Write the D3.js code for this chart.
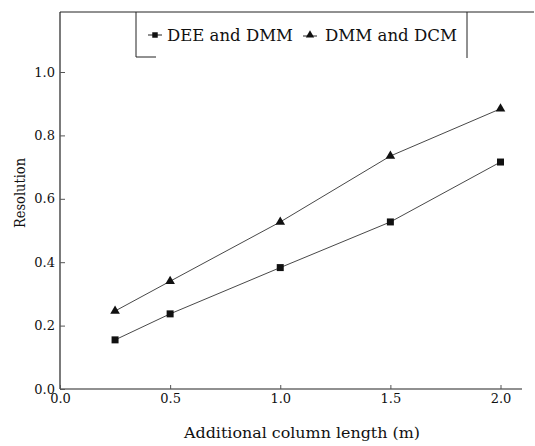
<!DOCTYPE html>
<html>
<head>
<meta charset="utf-8">
<script src="https://cdn.jsdelivr.net/npm/d3@7"></script>
<style>
  body { margin: 0; background: #fff; }
  svg { display: block; }
  text { font-family: "DejaVu Serif", "Liberation Serif", serif; fill: #111; }
</style>
</head>
<body>
<div id="chart"></div>
<script>
// ------------------------------------------------------------
// Data
// ------------------------------------------------------------
const lengths = [0.25, 0.5, 1.0, 1.5, 2.0];
const deeDmm = [0.155, 0.237, 0.383, 0.527, 0.716];
const dmmDcm = [0.246, 0.340, 0.527, 0.735, 0.884];
const seriesNames = ["DEE and DMM", "DMM and DCM"];
const xTicks = [0.0, 0.5, 1.0, 1.5, 2.0];
const yTicks = [0.0, 0.2, 0.4, 0.6, 0.8, 1.0];

const W = 535, H = 446;
const margin = { left: 60, top: 12, right: 13, bottom: 57 };
const FONT = '"DejaVu Serif", "Liberation Serif", serif';

const svg = d3.select("#chart")
    .append("svg")
    .attr("width", W)
    .attr("height", H);

// Scales
const x = d3.scaleLinear().domain([0, 2.0]).range([margin.left, 500.5]);
const y = d3.scaleLinear().domain([0, 1.0]).range([389, 72]);

// Frame: left axis, bottom axis, top line
svg.append("line")
    .attr("x1", margin.left).attr("x2", margin.left)
    .attr("y1", margin.top).attr("y2", y(0))
    .attr("stroke", "#222").attr("stroke-width", 1.2);
svg.append("line")
    .attr("x1", margin.left).attr("x2", 522)
    .attr("y1", y(0)).attr("y2", y(0))
    .attr("stroke", "#222").attr("stroke-width", 1.2);
svg.append("line")
    .attr("x1", margin.left).attr("x2", W - 1)
    .attr("y1", margin.top).attr("y2", margin.top)
    .attr("stroke", "#222").attr("stroke-width", 1);

// Y axis (inner ticks)
const yAxis = d3.axisLeft(y)
    .tickValues(yTicks)
    .tickFormat(d3.format(".1f"))
    .tickSizeInner(-5)
    .tickSizeOuter(0)
    .tickPadding(5);
const gy = svg.append("g")
    .attr("transform", `translate(${margin.left},0)`)
    .call(yAxis);
gy.select(".domain").remove();
gy.selectAll("line").attr("stroke", "#555");
gy.selectAll("text").attr("font-size", 13).attr("fill", "#111")
    .attr("font-family", FONT);

// X axis (inner ticks)
const xAxis = d3.axisBottom(x)
    .tickValues(xTicks)
    .tickFormat(d3.format(".1f"))
    .tickSizeInner(-4)
    .tickSizeOuter(0)
    .tickPadding(5);
const gx = svg.append("g")
    .attr("transform", `translate(0,${y(0)})`)
    .call(xAxis);
gx.select(".domain").remove();
gx.selectAll("line").attr("stroke", "#555");
gx.selectAll("text").attr("font-size", 13).attr("fill", "#111")
    .attr("font-family", FONT);

// Axis titles
svg.append("text")
    .attr("x", 184).attr("y", 438)
    .attr("font-size", 15)
    .attr("textLength", 236)
    .attr("lengthAdjust", "spacingAndGlyphs")
    .text("Additional column length (m)");
svg.append("text")
    .attr("transform", "translate(25,228) rotate(-90)")
    .attr("font-size", 14)
    .attr("textLength", 70)
    .attr("lengthAdjust", "spacingAndGlyphs")
    .text("Resolution");

// Lines and markers
const line = d3.line()
    .x((d, i) => x(lengths[i]))
    .y(d => y(d));

svg.append("path")
    .datum(deeDmm)
    .attr("d", line)
    .attr("fill", "none").attr("stroke", "#333").attr("stroke-width", 0.9);
svg.append("path")
    .datum(dmmDcm)
    .attr("d", line)
    .attr("fill", "none").attr("stroke", "#333").attr("stroke-width", 0.9);

const sq = d3.symbol().type(d3.symbolSquare).size(49);
const tri = d3.symbol().type(d3.symbolTriangle).size(40);

svg.selectAll(".sq")
    .data(deeDmm)
    .enter()
    .append("path")
    .attr("class", "sq")
    .attr("d", sq)
    .attr("transform", (d, i) => `translate(${x(lengths[i])},${y(d)})`)
    .attr("fill", "#111");

svg.selectAll(".tri")
    .data(dmmDcm)
    .enter()
    .append("path")
    .attr("class", "tri")
    .attr("d", tri)
    .attr("transform", (d, i) => `translate(${x(lengths[i])},${y(d)})`)
    .attr("fill", "#111");

// Legend
const lg = svg.append("g");
lg.append("line").attr("x1", 136).attr("x2", 136).attr("y1", margin.top).attr("y2", 57)
    .attr("stroke", "#222");
lg.append("line").attr("x1", 136).attr("x2", 156).attr("y1", 57).attr("y2", 57)
    .attr("stroke", "#222");
lg.append("line").attr("x1", 467).attr("x2", 467).attr("y1", margin.top).attr("y2", 58)
    .attr("stroke", "#222");

lg.append("line").attr("x1", 148).attr("x2", 162).attr("y1", 35).attr("y2", 35)
    .attr("stroke", "#222");
lg.append("path").attr("d", d3.symbol().type(d3.symbolSquare).size(30))
    .attr("transform", "translate(155,35)").attr("fill", "#111");
lg.append("text").attr("x", 167).attr("y", 41).attr("font-size", 16)
    .attr("textLength", 126)
    .attr("lengthAdjust", "spacingAndGlyphs")
    .text(seriesNames[0]);

lg.append("line").attr("x1", 303).attr("x2", 317).attr("y1", 36).attr("y2", 36)
    .attr("stroke", "#222");
lg.append("path").attr("d", d3.symbol().type(d3.symbolTriangle).size(30))
    .attr("transform", "translate(310,35)").attr("fill", "#111");
lg.append("text").attr("x", 325).attr("y", 41).attr("font-size", 16)
    .attr("textLength", 132)
    .attr("lengthAdjust", "spacingAndGlyphs")
    .text(seriesNames[1]);
</script>
</body>
</html>
